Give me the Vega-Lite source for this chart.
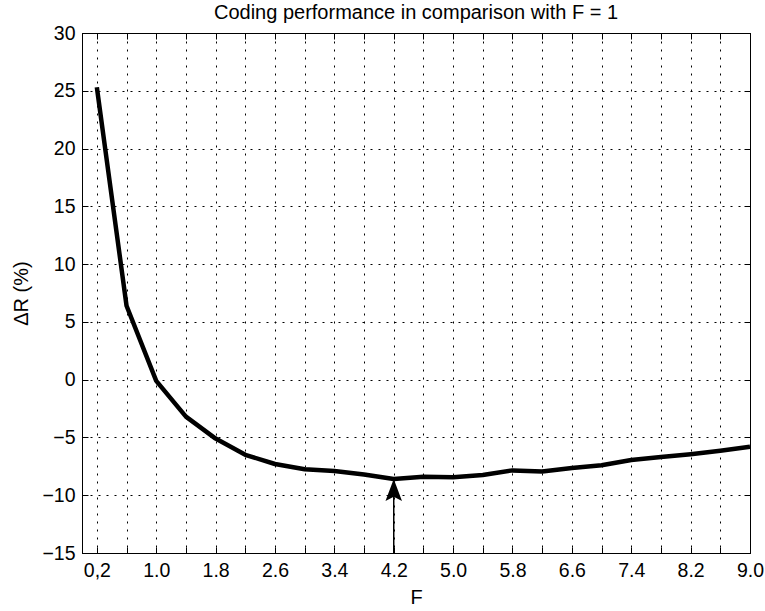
{
  "$schema": "https://vega.github.io/schema/vega-lite/v6.json",
  "width": 668,
  "height": 520,
  "autosize": {"type": "none"},
  "padding": {"left": 82, "top": 33, "right": 15, "bottom": 58},
  "background": "white",
  "config": {
    "font": "Liberation Sans",
    "view": {"stroke": "black", "strokeWidth": 1},
    "axis": {
      "domainColor": "black",
      "tickColor": "black",
      "labelColor": "black",
      "titleColor": "black",
      "labelFont": "Liberation Sans",
      "titleFont": "Liberation Sans",
      "titleFontWeight": "normal",
      "labelFontSize": 19.5,
      "titleFontSize": 20,
      "gridColor": "black",
      "gridOpacity": 1,
      "gridWidth": 1,
      "gridDash": [2, 6],
      "tickSize": -6,
      "tickWidth": 1
    }
  },
  "title": {
    "text": "Coding performance in comparison with F = 1",
    "font": "Liberation Sans",
    "fontSize": 20,
    "fontWeight": "normal",
    "color": "black",
    "anchor": "middle",
    "baseline": "alphabetic",
    "offset": 4,
    "dy": 19.5
  },
  "datasets": {
    "curve": [
      {"F": 0.2, "dR": 25.3},
      {"F": 0.6, "dR": 6.4},
      {"F": 1.0, "dR": -0.1},
      {"F": 1.4, "dR": -3.2},
      {"F": 1.8, "dR": -5.1},
      {"F": 2.2, "dR": -6.5},
      {"F": 2.6, "dR": -7.3},
      {"F": 3.0, "dR": -7.75},
      {"F": 3.4, "dR": -7.9},
      {"F": 3.8, "dR": -8.2},
      {"F": 4.2, "dR": -8.6},
      {"F": 4.6, "dR": -8.4},
      {"F": 5.0, "dR": -8.45},
      {"F": 5.4, "dR": -8.25},
      {"F": 5.8, "dR": -7.85},
      {"F": 6.2, "dR": -7.95},
      {"F": 6.6, "dR": -7.65},
      {"F": 7.0, "dR": -7.4},
      {"F": 7.4, "dR": -6.95},
      {"F": 7.8, "dR": -6.7},
      {"F": 8.2, "dR": -6.45},
      {"F": 8.6, "dR": -6.15},
      {"F": 9.0, "dR": -5.8}
    ],
    "arrow": [
      {"F": 4.2, "ystart": -15, "ytip": -8.6}
    ]
  },
  "layer": [
    {
      "data": {"name": "curve"},
      "mark": {"type": "line", "color": "black", "strokeWidth": 4.5, "strokeJoin": "round", "strokeCap": "butt"},
      "encoding": {
        "x": {
          "field": "F", "type": "quantitative",
          "scale": {"domain": [0, 9], "nice": false, "zero": false},
          "axis": {
            "orient": "bottom",
            "values": [0.2, 0.6, 1.0, 1.4, 1.8, 2.2, 2.6, 3.0, 3.4, 3.8, 4.2, 4.6, 5.0, 5.4, 5.8, 6.2, 6.6, 7.0, 7.4, 7.8, 8.2, 8.6, 9.0],
            "labelExpr": "abs(datum.value - 0.2) < 0.01 ? '0,2' : (round((datum.value - 0.2) / 0.4) % 2 == 0 ? format(datum.value, '.1f') : '')",
            "grid": true,
            "labelPadding": 14,
            "labelFlush": false,
            "labelOverlap": false,
            "title": "F",
            "titleBaseline": "alphabetic",
            "titleX": 334,
            "titleY": 50,
            "titleAnchor": null
          }
        },
        "y": {
          "field": "dR", "type": "quantitative",
          "scale": {"domain": [-15, 30], "nice": false, "zero": false},
          "axis": {
            "orient": "left",
            "values": [-15, -10, -5, 0, 5, 10, 15, 20, 25, 30],
            "grid": true,
            "labelPadding": 13,
            "labelFlush": false,
            "labelOverlap": false,
            "title": "ΔR (%)",
            "titleBaseline": "alphabetic",
            "titleAngle": -90,
            "titleX": -55,
            "titleY": 260
          }
        }
      }
    },
    {
      "data": {"name": "curve"},
      "mark": {"type": "line", "opacity": 0},
      "encoding": {
        "x": {
          "field": "F", "type": "quantitative",
          "axis": {
            "orient": "top",
            "values": [0.2, 0.6, 1.0, 1.4, 1.8, 2.2, 2.6, 3.0, 3.4, 3.8, 4.2, 4.6, 5.0, 5.4, 5.8, 6.2, 6.6, 7.0, 7.4, 7.8, 8.2, 8.6, 9.0],
            "labels": false,
            "grid": false,
            "title": null
          }
        },
        "y": {
          "field": "dR", "type": "quantitative",
          "axis": {
            "orient": "right",
            "values": [-15, -10, -5, 0, 5, 10, 15, 20, 25, 30],
            "labels": false,
            "grid": false,
            "title": null
          }
        }
      }
    },
    {
      "data": {"name": "arrow"},
      "mark": {"type": "rule", "color": "black", "strokeWidth": 1.5},
      "encoding": {
        "x": {"field": "F", "type": "quantitative", "axis": null},
        "y": {"field": "ystart", "type": "quantitative", "axis": null},
        "y2": {"field": "ytip"}
      }
    },
    {
      "data": {"name": "arrow"},
      "mark": {
        "type": "point",
        "shape": "M0,0 L0.75,2 L0,1.6 L-0.75,2 Z",
        "size": 484,
        "filled": true,
        "color": "black",
        "opacity": 1,
        "strokeWidth": 0
      },
      "encoding": {
        "x": {"field": "F", "type": "quantitative", "axis": null},
        "y": {"field": "ytip", "type": "quantitative", "axis": null}
      }
    }
  ],
  "resolve": {"axis": {"x": "independent", "y": "independent"}}
}
